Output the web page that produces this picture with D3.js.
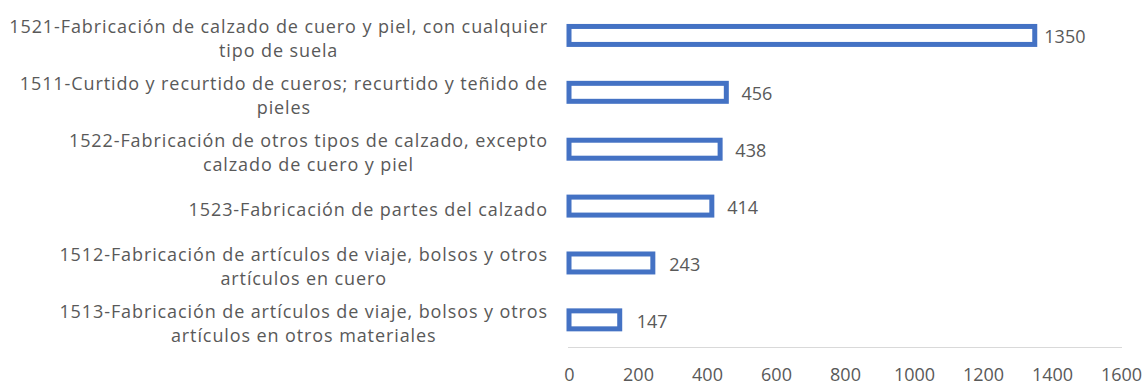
<!DOCTYPE html>
<html>
<head>
<meta charset="utf-8">
<script src="https://cdn.jsdelivr.net/npm/d3@7"></script>
<style>
  html, body { margin: 0; padding: 0; background: #ffffff; }
  svg { display: block; }
  text { font-family: "Open Sans", Lato, sans-serif; fill: #595959; }
</style>
</head>
<body>
<svg id="chart" width="1148" height="387"></svg>
<script>
// Establishments by CIIU activity (leather and footwear)
const categories = [
  "1521-Fabricación de calzado de cuero y piel, con cualquier\ntipo de suela",
  "1511-Curtido y recurtido de cueros; recurtido y teñido de\npieles",
  "1522-Fabricación de otros tipos de calzado, excepto\ncalzado de cuero y piel",
  "1523-Fabricación de partes del calzado",
  "1512-Fabricación de artículos de viaje, bolsos y otros\nartículos en cuero",
  "1513-Fabricación de artículos de viaje, bolsos y otros\nartículos en otros materiales"
];
const values = [1350, 456, 438, 414, 243, 147];
const tickValues = [0, 200, 400, 600, 800, 1000, 1200, 1400, 1600];

const svg = d3.select("#chart");

const x = d3.scaleLinear().domain([0, 1600]).range([569, 1121]);
const y = d3.scaleBand()
  .domain(categories)
  .range([7, 348.3])
  .paddingInner(0.684)
  .paddingOuter(0.342);

// value labels sit slightly further out on short bars
const xLabel = d3.scaleLinear().domain(x.domain()).range([x(0) + 18, x(1600) + 8]);

const data = categories.map((c, i) => ({ cat: c, value: values[i] }));

// horizontal axis line
svg.append("line")
  .attr("x1", x(0) - 1).attr("x2", x(1600) + 1)
  .attr("y1", 347.5).attr("y2", 347.5)
  .attr("stroke", "#d9d9d9").attr("stroke-width", 1);

// axis tick labels
const xAxis = d3.axisBottom(x).tickValues(tickValues).tickFormat(d3.format("d")).tickSize(0).tickPadding(0);
const gx = svg.append("g").call(xAxis);
gx.select(".domain").remove();
gx.selectAll("text")
  .attr("y", 381)
  .attr("dy", null)
  .style("font-size", "18px")
  .style("font-family", "'Open Sans', Lato, sans-serif")
  .attr("fill", "#595959");

// hollow bars
svg.append("g").selectAll("rect")
  .data(data)
  .join("rect")
  .attr("x", x(0))
  .attr("y", d => y(d.cat))
  .attr("width", d => x(d.value) - x(0))
  .attr("height", y.bandwidth())
  .attr("fill", "#ffffff")
  .attr("stroke", "#4472C4")
  .attr("stroke-width", 5);

// value labels
svg.append("g").selectAll("text")
  .data(data)
  .join("text")
  .attr("x", d => xLabel(d.value))
  .attr("y", d => y(d.cat) + y.bandwidth() / 2 + 8)
  .style("font-size", "18px")
  .text(d => d.value);

// category labels: each line centred, block right-aligned against the bars
const labelRight = 548;
const lineH = 24;
const gl = svg.append("g");
data.forEach(d => {
  const lines = d.cat.split("\n");
  const cy = y(d.cat) + y.bandwidth() / 2;
  const t = gl.append("text")
    .style("font-size", "18px")
    .style("letter-spacing", "0.9px")
    .attr("text-anchor", "middle");
  const spans = lines.map((ln, i) =>
    t.append("tspan")
      .attr("y", cy + 10 + (i - (lines.length - 1) / 2) * lineH)
      .text(ln));
  const widest = d3.max(spans, s => s.node().getComputedTextLength());
  spans.forEach(s => s.attr("x", labelRight - widest / 2));
});
</script>
</body>
</html>
